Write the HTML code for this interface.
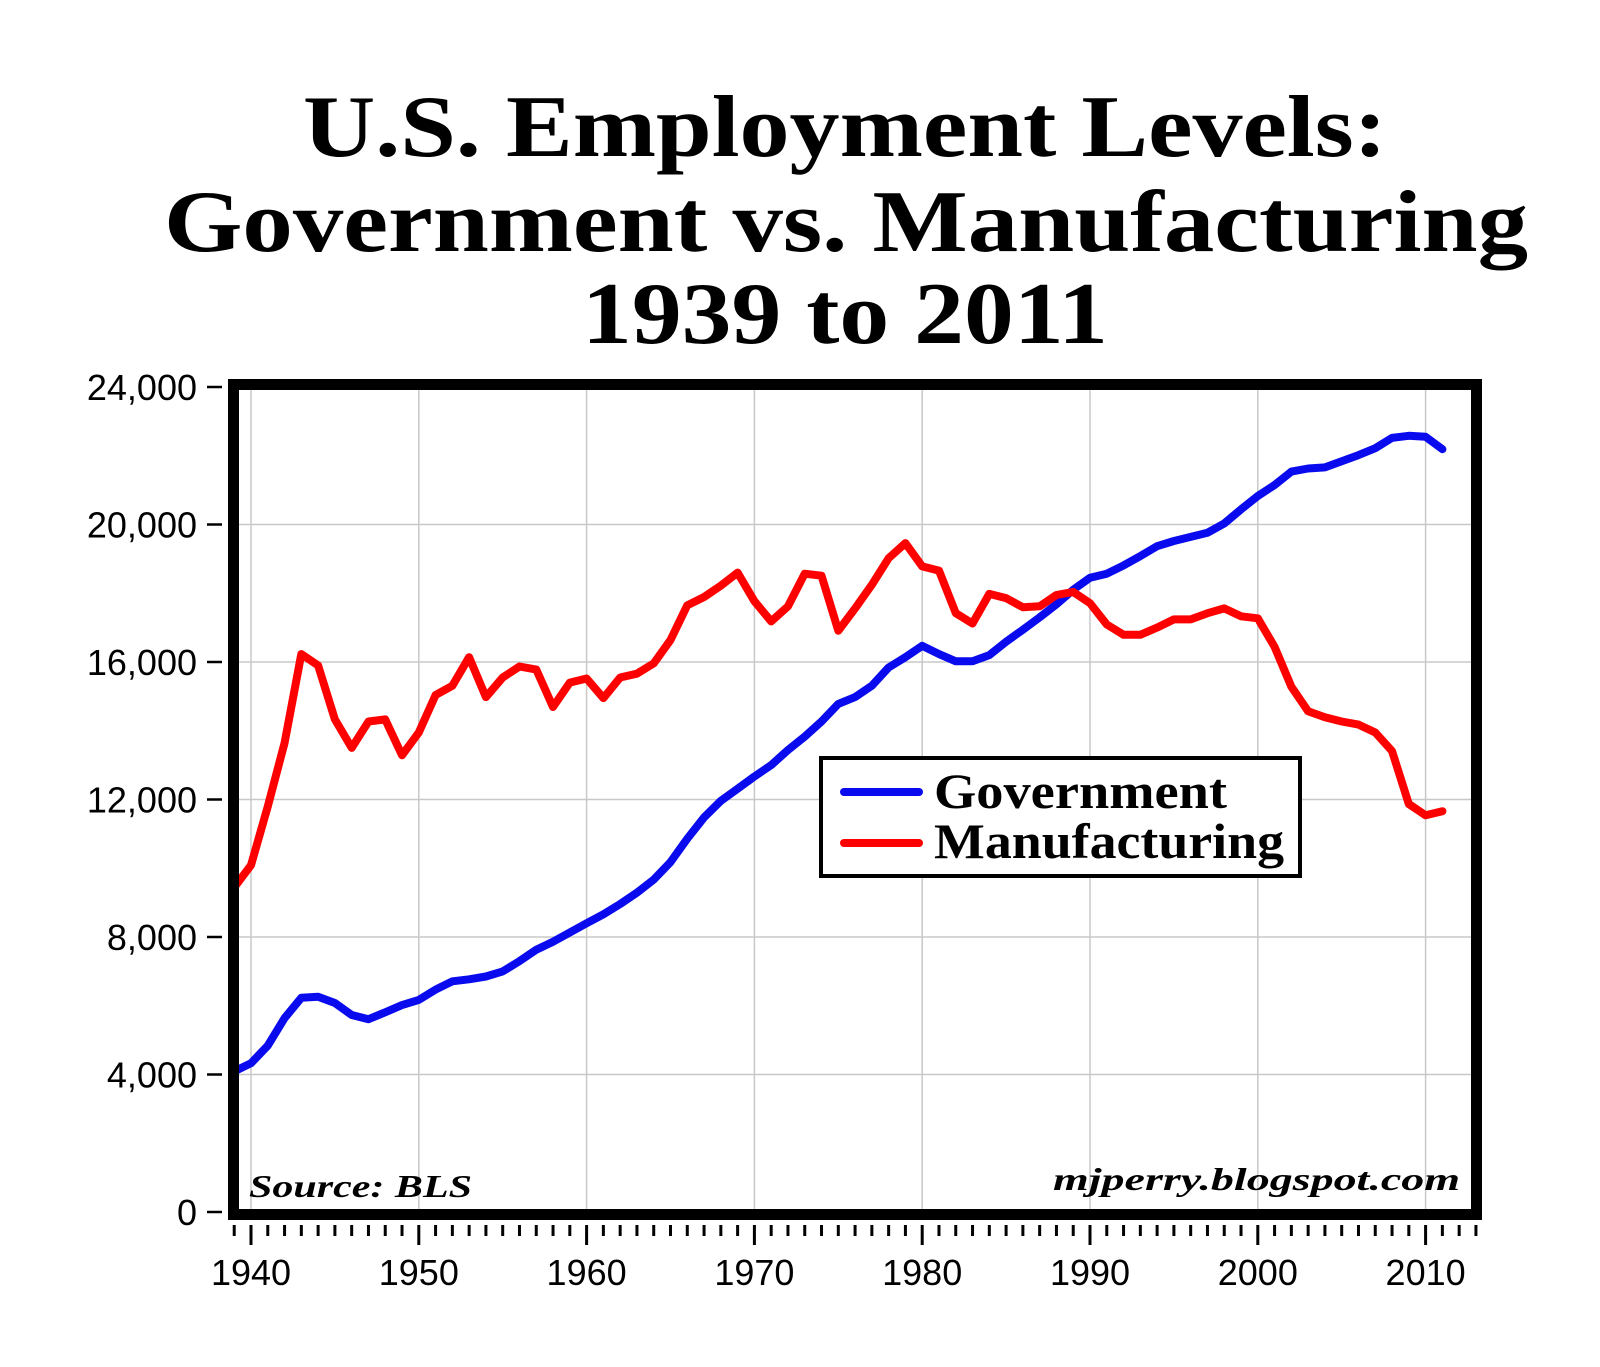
<!DOCTYPE html>
<html><head><meta charset="utf-8"><style>
html,body{margin:0;padding:0;background:#fff;}
svg{display:block;}
</style></head><body>
<svg id="chart" width="1600" height="1367" viewBox="0 0 1600 1367" xmlns="http://www.w3.org/2000/svg">
<rect width="1600" height="1367" fill="#fff"/>
<g font-family="'Liberation Serif', serif" font-weight="bold" font-size="88" fill="#000" text-anchor="start">
<text x="303" y="156" textLength="1084" lengthAdjust="spacingAndGlyphs">U.S. Employment Levels:</text>
<text x="164" y="251" textLength="1364" lengthAdjust="spacingAndGlyphs">Government vs. Manufacturing</text>
<text x="582" y="343" textLength="526" lengthAdjust="spacingAndGlyphs">1939 to 2011</text>
</g>
<g id="grid"></g>
<g id="series"></g>
<rect x="233.5" y="384.5" width="1243" height="830" fill="none" stroke="#000" stroke-width="11"/>
<g id="yaxis"></g>
<g id="xaxis"></g>
<text x="249" y="1197" font-family="'Liberation Serif', serif" font-weight="bold" font-style="italic" font-size="32" textLength="223" lengthAdjust="spacingAndGlyphs">Source: BLS</text>
<text x="1053" y="1190" font-family="'Liberation Serif', serif" font-weight="bold" font-style="italic" font-size="32" textLength="407" lengthAdjust="spacingAndGlyphs">mjperry.blogspot.com</text>
<g>
<rect x="821" y="758" width="479" height="118" fill="#fff" stroke="#000" stroke-width="4"/>
<line x1="844" y1="792" x2="919" y2="792" stroke="#0a0aee" stroke-width="8" stroke-linecap="round"/>
<line x1="844" y1="843" x2="919" y2="843" stroke="#ff0000" stroke-width="8" stroke-linecap="round"/>
<text x="934" y="808" font-family="'Liberation Serif', serif" font-weight="bold" font-size="50" textLength="293" lengthAdjust="spacingAndGlyphs">Government</text>
<text x="934" y="858" font-family="'Liberation Serif', serif" font-weight="bold" font-size="50" textLength="350" lengthAdjust="spacingAndGlyphs">Manufacturing</text>
</g>
</svg>
<script>
const years = [];
for (let yr = 1939; yr <= 2011; yr++) years.push(yr);
const government = [4090,4330,4840,5640,6230,6260,6080,5730,5610,5810,6020,6170,6470,6710,6770,6850,7000,7300,7630,7860,8130,8400,8660,8960,9290,9670,10180,10860,11480,11960,12310,12670,13000,13440,13830,14270,14780,14980,15310,15840,16140,16470,16230,16020,16020,16200,16590,16940,17300,17680,18100,18450,18570,18810,19080,19370,19520,19640,19760,20030,20440,20830,21150,21540,21630,21660,21840,22020,22220,22520,22580,22550,22190];
const manufacturing = [9440,10090,11800,13650,16230,15900,14330,13500,14270,14330,13290,13950,15040,15310,16140,14980,15550,15870,15780,14690,15400,15520,14950,15550,15660,15960,16640,17650,17890,18220,18600,17770,17180,17620,18570,18510,16910,17560,18250,19020,19460,18780,18660,17420,17120,17980,17860,17590,17620,17950,18040,17710,17090,16790,16790,17000,17240,17240,17420,17560,17330,17270,16440,15280,14570,14390,14270,14180,13950,13410,11870,11540,11660];
const yTicks = [0,4000,8000,12000,16000,20000,24000];
const yTickLabels = ["0","4,000","8,000","12,000","16,000","20,000","24,000"];
const xMajor = [1940,1950,1960,1970,1980,1990,2000,2010];
const xMajorLabels = ["1940","1950","1960","1970","1980","1990","2000","2010"];

const NS = "http://www.w3.org/2000/svg";
function X(yr){ return 251 + (yr - 1940) * 16.78; }
function Y(v){ return 1212 - v * 275 / 8000; }
function mk(tag, attrs, parent){ const e = document.createElementNS(NS, tag); for (const k in attrs) e.setAttribute(k, attrs[k]); parent.appendChild(e); return e; }

const grid = document.getElementById('grid');
yTicks.forEach(v => {
  const l = mk('line', {x1:239, x2:1471, y1:Y(v), y2:Y(v), stroke:'#c8c8c8', 'stroke-width':1.5}, grid);
  
  
});
xMajor.forEach(yr => {
  const l = mk('line', {x1:X(yr), x2:X(yr), y1:390, y2:1209, stroke:'#c8c8c8', 'stroke-width':1.5}, grid);
  
  
});

const ser = document.getElementById('series');
function drawLine(vals, color, name){
  const d = vals.map((v,i) => (i ? 'L' : 'M') + X(years[i]).toFixed(1) + ' ' + Y(v).toFixed(1)).join(' ');
  const p = mk('path', {d:d, fill:'none', stroke:color, 'stroke-width':8, 'stroke-linejoin':'round', 'stroke-linecap':'round'}, ser);
  
  
}
drawLine(government, '#0a0aee', 'government-line');
drawLine(manufacturing, '#ff0000', 'manufacturing-line');

const ya = document.getElementById('yaxis');
yTicks.forEach((v,i) => {
  const t = mk('line', {x1:207, x2:222, y1:Y(v), y2:Y(v), stroke:'#000', 'stroke-width':2.5}, ya);
  
  
  const tx = mk('text', {x:197, y:Y(v)+13, 'text-anchor':'end', 'font-family':"'Liberation Sans', sans-serif", 'font-size':36, fill:'#000'}, ya);
  tx.textContent = yTickLabels[i];
  
  
});

const xa = document.getElementById('xaxis');
for (let yr = 1939; yr <= 2013; yr++) {
  const major = xMajor.indexOf(yr) >= 0;
  const t = mk('line', {x1:X(yr), x2:X(yr), y1:1225, y2: major ? 1245 : 1236, stroke:'#000', 'stroke-width':3}, xa);
  
  
}
xMajor.forEach((yr,i) => {
  const tx = mk('text', {x:X(yr), y:1285, 'text-anchor':'middle', 'font-family':"'Liberation Sans', sans-serif", 'font-size':36, fill:'#000'}, xa);
  tx.textContent = xMajorLabels[i];
  
  
});
</script>
</body></html>
